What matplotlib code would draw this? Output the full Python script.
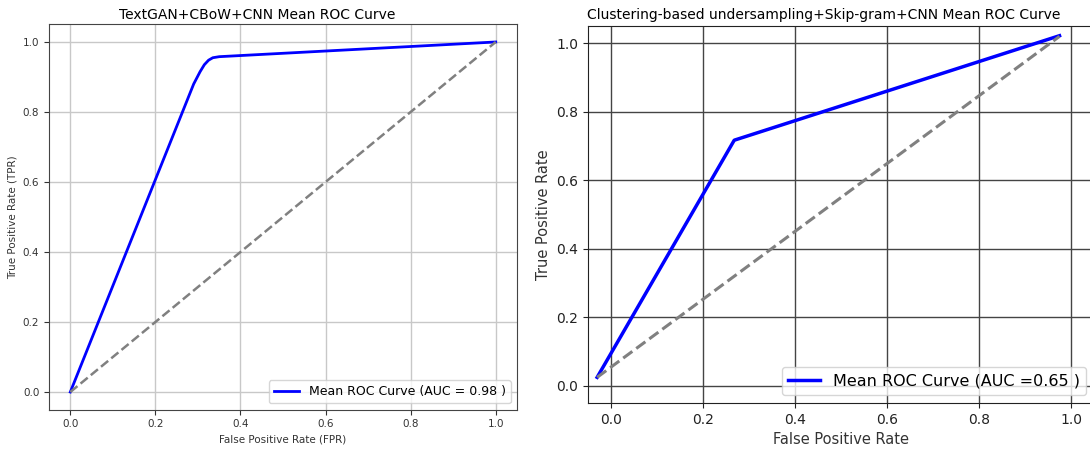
import matplotlib
matplotlib.use("Agg")
import matplotlib.pyplot as plt

# Left panel: TextGAN+CBoW+CNN mean ROC
left_fpr = [0.0, 0.29, 0.305, 0.315, 0.325, 0.335, 0.35, 1.0]
left_tpr = [0.0, 0.88, 0.915, 0.935, 0.948, 0.955, 0.958, 1.0]
left_chance_x = [0.0, 1.0]
left_chance_y = [0.0, 1.0]
left_auc = 0.98

# Right panel: Clustering-based undersampling+Skip-gram+CNN mean ROC
right_fpr = [-0.03, 0.268, 0.975]
right_tpr = [0.025, 0.717, 1.022]
right_chance_x = [-0.03, 0.975]
right_chance_y = [0.025, 1.02]
right_auc = 0.65

ticks = [0.0, 0.2, 0.4, 0.6, 0.8, 1.0]


def main():
    fig = plt.figure(figsize=(10.9, 4.5), dpi=100)

    # ---- left
    ax1 = fig.add_axes([0.045, 0.09, 0.4293, 0.8556])
    ax1.plot(left_fpr, left_tpr, color="blue", lw=2,
             label=f"Mean ROC Curve (AUC = {left_auc:.2f} )")
    ax1.plot(left_chance_x, left_chance_y, "--", color="gray", lw=1.8)
    ax1.set_xlim(-0.05, 1.05)
    ax1.set_ylim(-0.05, 1.05)
    ax1.set_xticks(ticks)
    ax1.set_yticks(ticks)
    ax1.tick_params(labelsize=7.5, colors="#333333")
    ax1.grid(True, color="#c8c8c8", lw=1)
    ax1.set_title("TextGAN+CBoW+CNN Mean ROC Curve", fontsize=10, pad=4, x=0.444)
    ax1.set_xlabel("False Positive Rate (FPR)", fontsize=7.5, color="#333333")
    ax1.set_ylabel("True Positive Rate (TPR)", fontsize=7.5, color="#333333")
    for sp in ax1.spines.values():
        sp.set_color("#444444")
    ax1.legend(loc="lower right", fontsize=9)

    # ---- right (axes runs slightly past the right edge, as in the source)
    ax2 = fig.add_axes([0.5394, 0.1044, 0.4643, 0.8376])
    ax2.plot(right_fpr, right_tpr, color="blue", lw=2.5,
             label=f"Mean ROC Curve (AUC ={right_auc:.2f} )")
    ax2.plot(right_chance_x, right_chance_y, "--", color="gray", lw=2.2)
    ax2.set_xlim(-0.05, 1.05)
    ax2.set_ylim(-0.05, 1.05)
    ax2.set_xticks(ticks)
    ax2.set_yticks(ticks)
    ax2.tick_params(labelsize=10, colors="#222222")
    ax2.grid(True, color="#444444", lw=1)
    ax2.set_title("Clustering-based undersampling+Skip-gram+CNN Mean ROC Curve",
                  fontsize=10, pad=5, x=0.466)
    ax2.set_xlabel("False Positive Rate", fontsize=10.5, color="#333333")
    ax2.set_ylabel("True Positive Rate", fontsize=10.5, color="#333333")
    for sp in ax2.spines.values():
        sp.set_color("#222222")
    ax2.legend(loc="lower right", fontsize=11.5)

    fig.savefig("out.png", dpi=100)
    plt.close(fig)


if __name__ == "__main__":
    main()
